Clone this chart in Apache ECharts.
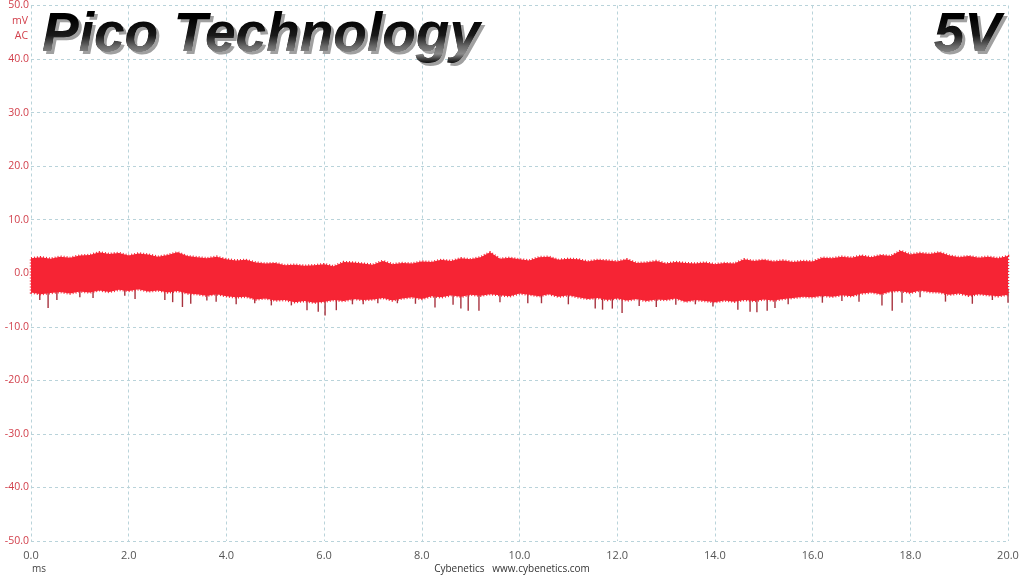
<!DOCTYPE html>
<html>
<head>
<meta charset="utf-8">
<script src="https://cdn.jsdelivr.net/npm/echarts@6/dist/echarts.min.js"></script>
<style>
html,body{margin:0;padding:0;background:#fff;}
#chart{width:1024px;height:576px;}
</style>
</head>
<body>
<div id="chart"></div>
<script>
// ---- data ----
const title = 'Pico Technology';
const railLabel = '5V';
const yUnit = ['mV', 'AC'];
const xUnit = 'ms';
const footer = 'Cybenetics   www.cybenetics.com';
const xTicks = [0, 2, 4, 6, 8, 10, 12, 14, 16, 18, 20];
const yTicks = [-50, -40, -30, -20, -10, 0, 10, 20, 30, 40, 50];
const sampleStepMs = 0.2;
// upper edge of the noise band (mV), every 0.2 ms from 0 to 20 ms
const upperEnvelope = [
  2.8, 3.0, 2.7, 3.1, 2.9, 3.3, 3.4, 3.9, 3.6, 3.8,
  3.3, 3.7, 3.5, 3.1, 3.4, 3.9, 3.2, 3.0, 2.8, 3.1,
  2.6, 2.4, 2.5, 2.0, 1.8, 1.9, 1.5, 1.6, 1.4, 1.5,
  1.7, 1.3, 2.1, 2.0, 1.8, 1.6, 2.3, 1.7, 1.9, 1.8,
  2.2, 2.1, 2.5, 2.3, 2.8, 2.6, 3.0, 3.9, 2.7, 2.9,
  2.6, 2.4, 3.0, 3.1, 2.5, 2.7, 2.6, 2.2, 2.5, 2.4,
  2.2, 2.6, 1.9, 2.0, 2.3, 1.8, 2.1, 1.9, 1.8, 2.0,
  1.7, 1.9, 1.8, 2.6, 2.3, 2.5, 2.2, 2.4, 2.1, 2.3,
  2.2, 2.9, 2.8, 3.1, 2.9, 3.3, 3.0, 3.4, 3.2, 4.2,
  3.5, 3.8, 3.6, 3.9, 3.3, 3.0, 3.2, 2.9, 3.1, 2.8,
  3.2
];
// lower edge of the noise band (mV), every 0.2 ms from 0 to 20 ms
const lowerEnvelope = [
  -3.6, -3.9, -3.7, -3.5, -3.8, -3.4, -3.6, -3.2, -3.5, -3.1,
  -3.3, -3.0, -3.4, -3.2, -3.6, -3.3, -3.8, -3.9, -4.2, -3.9,
  -4.3, -4.5, -4.4, -4.9, -4.7, -5.1, -5.0, -5.4, -5.2, -5.5,
  -5.3, -5.0, -5.2, -4.8, -5.0, -4.9, -4.6, -5.1, -4.7, -4.5,
  -4.8, -4.3, -4.5, -4.1, -4.4, -4.0, -4.2, -3.9, -4.1, -4.3,
  -3.8, -4.0, -4.3, -3.9, -4.4, -4.1, -4.5, -4.8, -4.6, -5.0,
  -4.7, -5.1, -4.8, -5.2, -4.9, -5.0, -4.7, -5.3, -5.0, -5.2,
  -5.4, -5.1, -5.3, -5.0, -5.2, -4.9, -5.1, -4.8, -4.6, -4.4,
  -4.5, -4.2, -4.4, -4.1, -4.3, -3.8, -3.6, -3.9, -3.4, -3.3,
  -3.7, -3.2, -3.5, -3.6, -4.0, -3.8, -4.2, -3.9, -4.1, -4.3,
  -4.0
];
// downward spikes below the band: [time ms, minimum mV]
const spikes = [
  [0.18,-5.0],[0.35,-6.5],[0.53,-5.0],[1.0,-4.5],[1.27,-4.6],[1.92,-4.2],[2.13,-4.8],
  [2.74,-5.0],[2.9,-5.4],[3.1,-6.3],[3.27,-5.7],[3.6,-5.1],[3.79,-5.3],[4.2,-5.8],
  [4.58,-5.6],[4.92,-6.0],[5.33,-6.0],[5.65,-6.9],[5.88,-7.2],[6.02,-7.9],[6.25,-6.9],
  [6.58,-5.8],[6.8,-5.8],[7.1,-5.6],[7.5,-5.6],[7.87,-5.7],[8.27,-6.4],[8.64,-5.9],
  [8.8,-6.6],[8.95,-7.0],[9.17,-7.0],[9.6,-5.4],[10.17,-5.6],[10.45,-5.6],[11.0,-5.8],
  [11.55,-6.6],[11.7,-6.8],[11.9,-6.6],[12.1,-7.4],[12.45,-6.1],[12.8,-6.3],[13.2,-5.9],
  [13.6,-5.8],[13.96,-6.2],[14.47,-6.8],[14.72,-7.2],[14.86,-7.3],[15.07,-7.0],[15.23,-6.5],
  [15.5,-5.8],[16.2,-5.5],[16.6,-5.2],[16.95,-5.3],[17.42,-6.0],[17.63,-7.0],[17.83,-5.5],
  [18.2,-4.5],[18.72,-5.3],[19.27,-5.7],[19.68,-5.0],[20.0,-5.5]
];

// ---- chart ----
const chart = echarts.init(document.getElementById('chart'), null, {renderer: 'canvas'});
const bandColor = '#f62434';
const spikeColor = '#a8323e';
const gridColor = '#b9d3da';
const yLabelColor = '#d2404c';

const bandData = upperEnvelope.map((v, i) => [i * sampleStepMs, v, lowerEnvelope[i]]);

const option = {
  animation: false,
  backgroundColor: '#fff',
  grid: {left: 31, right: 16, top: 5, bottom: 35, containLabel: false},
  xAxis: {
    type: 'value', min: xTicks[0], max: xTicks[xTicks.length - 1], interval: 2,
    axisLine: {show: false}, axisTick: {show: false},
    axisLabel: {color: '#555', fontSize: 11, margin: 9, fontFamily: 'Open Sans',
      formatter: v => v.toFixed(1)},
    splitLine: {show: true, lineStyle: {color: gridColor, type: [3, 3], width: 1}}
  },
  yAxis: {
    type: 'value', min: yTicks[0], max: yTicks[yTicks.length - 1], interval: 10,
    axisLine: {show: false}, axisTick: {show: false},
    axisLabel: {color: yLabelColor, fontSize: 10.5, margin: 2, fontFamily: 'Open Sans',
      formatter: v => v.toFixed(1)},
    splitLine: {show: true, lineStyle: {color: gridColor, type: [3, 3], width: 1}}
  },
  series: [
    {
      type: 'custom', z: 2, silent: true,
      data: spikes,
      renderItem: (params, api) => {
        const t = api.value(0), v = api.value(1);
        const a = api.coord([t, -3]);
        const b = api.coord([t, v]);
        return {type: 'line', shape: {x1: a[0], y1: a[1], x2: b[0], y2: b[1]},
          style: {stroke: spikeColor, lineWidth: 1.4}};
      }
    },
    {
      type: 'custom', z: 3, silent: true,
      data: bandData,
      renderItem: (params, api) => {
        if (params.dataIndex !== 0) return null;
        const pts = [];
        for (let i = 0; i < bandData.length; i++) pts.push(api.coord([bandData[i][0], bandData[i][1]]));
        for (let i = bandData.length - 1; i >= 0; i--) pts.push(api.coord([bandData[i][0], bandData[i][2]]));
        return {type: 'polygon', shape: {points: pts},
          style: {fill: bandColor, stroke: bandColor, lineWidth: 2.5, lineDash: [1, 2]}};
      }
    }
  ],
  graphic: [
    {type: 'text', right: 996, top: 16, z: 10,
      style: {text: yUnit[0], font: '10.5px "Open Sans"', fill: yLabelColor, align: 'right'}},
    {type: 'text', right: 996, top: 31, z: 10,
      style: {text: yUnit[1], font: '10.5px "Open Sans"', fill: yLabelColor, align: 'right'}},
    {type: 'text', left: 32, top: 564, z: 10,
      style: {text: xUnit, font: '10px "Open Sans"', fill: '#444'}},
    {type: 'text', left: 'center', top: 564, z: 10,
      style: {text: footer, font: '10px "Open Sans"', fill: '#333'}}
  ]
};
chart.setOption(option);

// ---- metallic 3D title text (real text + a 'lighten' shading rectangle) ----
const titleFont = 'italic bold 55px "Liberation Sans", Arial';
const zr = chart.getZr();
function metalText(text, x, y, align, rectX, rectW) {
  const base = {text: text, font: titleFont, align: align, verticalAlign: 'top'};
  zr.add(new echarts.graphic.Text({z: 100, style: Object.assign({}, base, {x: x + 3, y: y + 3, fill: '#a0a0a0'})}));
  zr.add(new echarts.graphic.Text({z: 101, style: Object.assign({}, base, {x: x, y: y, fill: '#000'})}));
  const shade = new echarts.graphic.LinearGradient(0, 0, 0, 1, [
    {offset: 0, color: '#000'},
    {offset: 0.38, color: '#1a1a1a'},
    {offset: 0.62, color: '#6a6a6a'},
    {offset: 0.78, color: '#8a8a8a'},
    {offset: 0.9, color: '#3a3a3a'},
    {offset: 1, color: '#000'}
  ]);
  zr.add(new echarts.graphic.Rect({z: 102, silent: true,
    shape: {x: rectX, y: y + 10, width: rectW, height: 46},
    style: {fill: shade, blend: 'lighten'}}));
}
metalText(title, 42, 8, 'left', 38, 450);
metalText(railLabel, 1001, 8, 'right', 928, 80);
</script>
</body>
</html>
